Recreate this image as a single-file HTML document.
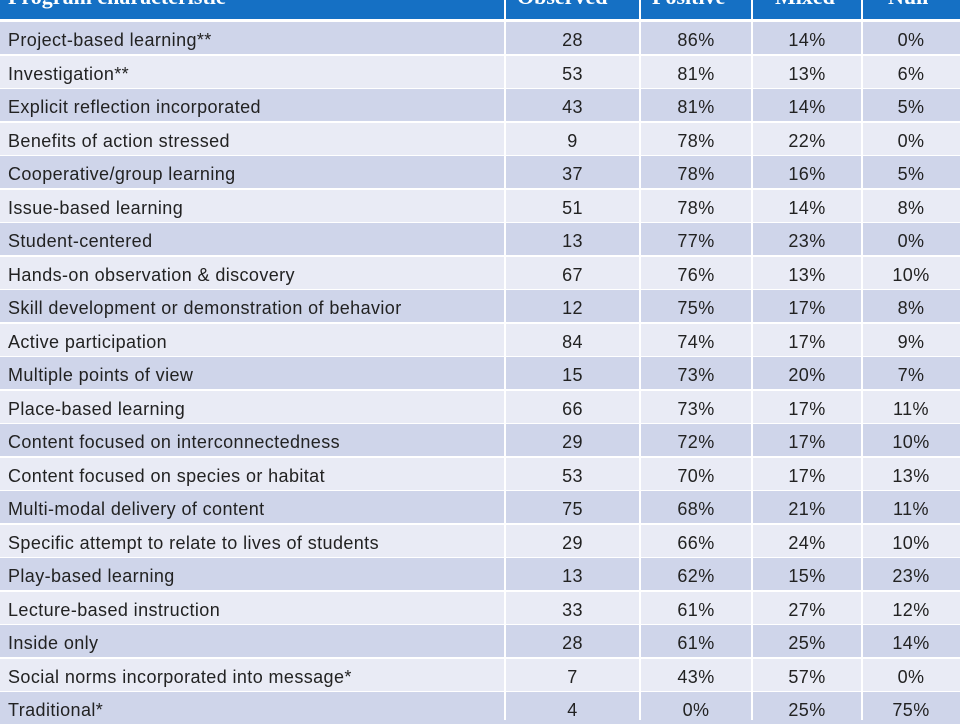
<!DOCTYPE html>
<html><head><meta charset="utf-8"><style>
body{margin:0;width:960px;height:720px;overflow:hidden;background:#fff;position:relative;font-family:"Liberation Sans",sans-serif}
.hdr{position:absolute;left:0;top:0;width:960px;height:19px;background:#1570c4;overflow:hidden}
.hdr span{position:absolute;top:-16px;color:#fff;font:bold 22px "Liberation Serif",serif;white-space:nowrap}
.row{position:absolute;left:0;width:960px;height:32px;font-size:18px;letter-spacing:0.4px;color:#222}
.row div{position:absolute;top:0;height:32px;line-height:36px;white-space:nowrap}
.vl{position:absolute;top:0;width:2px;height:720px;background:#fff}
</style></head><body>
<div class="hdr">
<span style="left:8px">Program characteristic</span>
<span style="left:517px">Observed</span>
<span style="left:652px">Positive</span>
<span style="left:775px">Mixed</span>
<span style="left:888px">Null</span>
</div>
<div id="t"></div>
<div class="vl" style="left:504px"></div>
<div class="vl" style="left:639px"></div>
<div class="vl" style="left:751px"></div>
<div class="vl" style="left:861px"></div>
<script>
var d=[["Project-based learning**",28,"86%","14%","0%"],["Investigation**",53,"81%","13%","6%"],["Explicit reflection incorporated",43,"81%","14%","5%"],["Benefits of action stressed",9,"78%","22%","0%"],["Cooperative/group learning",37,"78%","16%","5%"],["Issue-based learning",51,"78%","14%","8%"],["Student-centered",13,"77%","23%","0%"],["Hands-on observation & discovery",67,"76%","13%","10%"],["Skill development or demonstration of behavior",12,"75%","17%","8%"],["Active participation",84,"74%","17%","9%"],["Multiple points of view",15,"73%","20%","7%"],["Place-based learning",66,"73%","17%","11%"],["Content focused on interconnectedness",29,"72%","17%","10%"],["Content focused on species or habitat",53,"70%","17%","13%"],["Multi-modal delivery of content",75,"68%","21%","11%"],["Specific attempt to relate to lives of students",29,"66%","24%","10%"],["Play-based learning",13,"62%","15%","23%"],["Lecture-based instruction",33,"61%","27%","12%"],["Inside only",28,"61%","25%","14%"],["Social norms incorporated into message*",7,"43%","57%","0%"],["Traditional*",4,"0%","25%","75%"]];
var cx=[[505,640],[640,752],[752,862],[862,960]];var h="";
d.forEach(function(r,i){var top=22+33.5*i;h+='<div class="row" style="top:'+top+'px;background:'+(i%2?'#e9ebf5':'#cfd5ea')+'"><div style="left:8px">'+r[0].replace("&","&amp;")+'</div>';
for(var j=1;j<5;j++)h+='<div style="left:'+cx[j-1][0]+'px;width:'+(cx[j-1][1]-cx[j-1][0])+'px;text-align:center">'+r[j]+'</div>';h+='</div>';});
document.getElementById("t").innerHTML=h;
</script>
</body></html>
